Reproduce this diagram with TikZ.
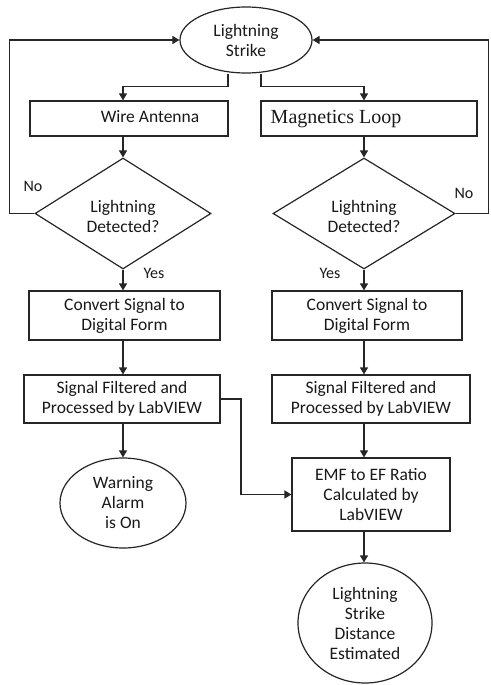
\documentclass[tikz,border=0pt]{standalone}
\usepackage{fontspec}
\setmainfont{Carlito}
\newfontfamily\serifA{Liberation Serif}
\usetikzlibrary{shapes.geometric,arrows.meta}
\begin{document}
\begin{tikzpicture}[x=1pt,y=-1pt,
  every node/.style={font=\fontsize{17.5}{20}\selectfont, text=black!90, inner sep=0pt},
  box/.style={draw=black!85, line width=1.2pt, rectangle},
  oval/.style={draw=black!85, line width=1.2pt, ellipse},
  dia/.style={draw=black!85, line width=1.2pt, diamond},
  arr/.style={draw=black!85, line width=1.2pt, -{Triangle[length=7pt,width=8pt]}},
  ln/.style={draw=black!85, line width=1.2pt},
  lbl/.style={font=\fontsize{16}{18}\selectfont}]
\useasboundingbox (0,0) rectangle (490,685);
\fill[white] (0,0) rectangle (490,685);

\node[oval, minimum width=132, minimum height=66, align=center] (strike) at (246,40) {Lightning\\Strike};

\node[box, minimum width=198, minimum height=35] (wire) at (129,118.5) {};
\node (wiret) at (150,117) {Wire Antenna};
\node[box, minimum width=216, minimum height=35] (mag) at (369,118.5) {};
\node[font=\serifA\fontsize{20}{22}\selectfont] (magt) at (336,119) {Magnetics Loop};

\node[dia, minimum width=176, minimum height=85, align=center] (d1) at (123,213.5) {\\[-2pt]Lightning\\Detected?};
\node[dia, minimum width=182, minimum height=85, align=center] (d2) at (364,213.5) {\\[-2pt]Lightning\\Detected?};

\node[lbl] (no1) at (33,186) {No};
\node[lbl] (no2) at (464,193) {No};
\node[lbl] (yes1) at (154,273) {Yes};
\node[lbl] (yes2) at (330,273) {Yes};

\node[box, minimum width=191, minimum height=49, align=center] (c1) at (124.5,315.5) {Convert Signal to\\Digital Form};
\node[box, minimum width=190, minimum height=49, align=center] (c2) at (367,315.5) {Convert Signal to\\Digital Form};

\node[box, minimum width=196, minimum height=48, align=center] (s1) at (122,399) {Signal Filtered and\\Processed by LabVIEW};
\node[box, minimum width=198, minimum height=48, align=center] (s2) at (371,399) {Signal Filtered and\\Processed by LabVIEW};

\node[oval, minimum width=126, minimum height=90, align=center] (warn) at (123,503) {Warning\\Alarm\\is On};
\node[box, minimum width=158, minimum height=73, align=center] (emf) at (371,494.5) {EMF to EF Ratio\\Calculated by\\LabVIEW};
\node[oval, minimum width=134, minimum height=120, align=center] (dist) at (365,623) {Lightning\\Strike\\Distance\\Estimated};

\coordinate (lc) at (9.5,213.5);
\coordinate (rc) at (488.5,213.5);
\coordinate (sc) at (241,399);

% from strike to the two sensors
\draw[arr] ([xshift=-18pt]strike.south) -- ++(0,13) -| (wire.north -| d1.north);
\draw[arr] ([xshift=15pt]strike.south) -- ++(0,13) -| (mag.north -| d2.north);

% sensors to decisions
\draw[arr] (wire.south -| d1.north) -- (d1.north);
\draw[arr] (mag.south -| d2.north) -- (d2.north);

% No loops
\draw[arr] (d1.west) -- (lc) |- (strike.west);
\draw[arr] (d2.east) -- (rc) |- (strike.east);

% Yes
\draw[arr] (d1.south) -- (c1.north -| d1.south);
\draw[arr] (d2.south) -- (c2.north -| d2.south);

\draw[arr] (c1.south -| d1.south) -- (s1.north -| d1.south);
\draw[arr] (c2.south -| d2.south) -- (s2.north -| d2.south);

\draw[arr] (s1.south -| d1.south) -- (warn.north);
\draw[arr] (s2.south -| d2.south) -- (emf.north -| d2.south);
\draw[arr] (s1.east) -- (sc) |- (emf.west);

\draw[arr] (emf.south -| d2.south) -- (dist.north -| d2.south);
\end{tikzpicture}
\end{document}
